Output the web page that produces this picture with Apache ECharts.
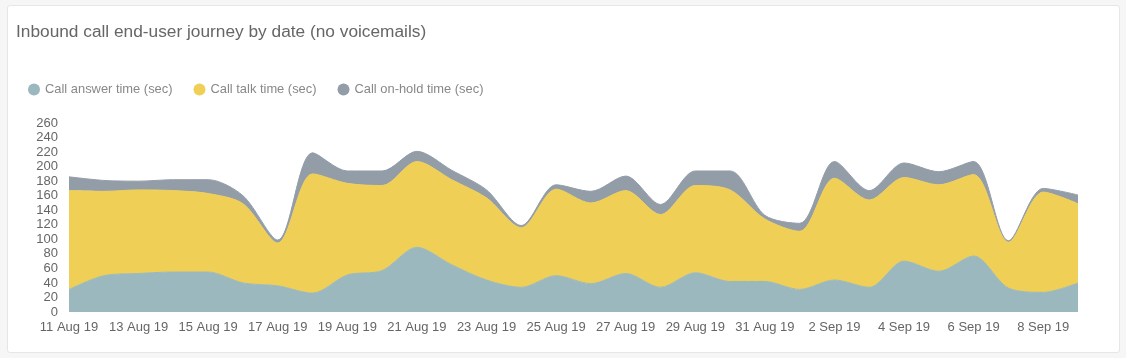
<!DOCTYPE html>
<html>
<head>
<meta charset="utf-8">
<script src="https://cdn.jsdelivr.net/npm/echarts@6/dist/echarts.min.js"></script>
<style>
  html, body { margin: 0; padding: 0; background: #f6f6f6; }
  #card { position: absolute; left: 7px; top: 5px; width: 1111px; height: 346px; background: #fff; border: 1px solid #e6e6e6; border-radius: 3px; }
  #main { position: absolute; left: 0; top: 0; width: 1126px; height: 358px; }
</style>
</head>
<body>
<div id="card"></div>
<div id="main"></div>
<script>
const categories = ['11 Aug 19','12 Aug 19','13 Aug 19','14 Aug 19','15 Aug 19','16 Aug 19','17 Aug 19','18 Aug 19','19 Aug 19','20 Aug 19',
  '21 Aug 19','22 Aug 19','23 Aug 19','24 Aug 19','25 Aug 19','26 Aug 19','27 Aug 19','28 Aug 19','29 Aug 19','30 Aug 19',
  '31 Aug 19','1 Sep 19','2 Sep 19','3 Sep 19','4 Sep 19','5 Sep 19','6 Sep 19','7 Sep 19','8 Sep 19','9 Sep 19'];
const answerTime = [31,50,53,55,55,40,36,26,51,57,89,65,44,34,50,39,53,34,54,42,42,31,44,34,70,56,77,33,27,40];
const talkTime   = [136,116,115,112,108,109,59,164,126,117,118,117,113,82,119,111,114,100,120,126,86,80,140,120,115,119,112,63,138,109];
const holdTime   = [19,15,12,15,19,11,4,29,17,20,14,13,11,3,6,16,20,14,20,26,5,11,23,13,20,18,18,2,5,12];
const yTicks = [0,20,40,60,80,100,120,140,160,180,200,220,240,260];

const font = "'Liberation Sans', Arial, sans-serif";
const chart = echarts.init(document.getElementById('main'));
const mk = (name, data, color) => ({
  name, type: 'line', stack: 'total', data, smooth: 0.3, symbol: 'none',
  lineStyle: { width: 1, color: color },
  areaStyle: { color: color, opacity: 1 },
  itemStyle: { color: color }
});
chart.setOption({
  animation: false,
  textStyle: { fontFamily: font },
  title: {
    text: 'Inbound call end-user journey by date (no voicemails)',
    left: 11, top: 19,
    textStyle: { fontSize: 17.3, fontWeight: 'normal', color: '#666', fontFamily: font }
  },
  legend: {
    left: 23, top: 78, icon: 'circle', itemWidth: 12, itemHeight: 12, itemGap: 21,
    textStyle: { fontSize: 12.9, color: '#888', fontFamily: font }
  },
  grid: { left: 69, right: 48, top: 123, bottom: 46 },
  xAxis: {
    type: 'category', data: categories, boundaryGap: false,
    axisLine: { show: false }, axisTick: { show: false },
    axisLabel: { interval: 1, color: '#666', fontSize: 13, margin: 9, fontFamily: font }
  },
  yAxis: {
    type: 'value', min: 0, max: 260, interval: 20,
    splitLine: { show: false }, axisLine: { show: false }, axisTick: { show: false },
    axisLabel: { color: '#666', fontSize: 13, margin: 11, fontFamily: font,
      formatter: v => yTicks.includes(v) ? String(v) : '' }
  },
  series: [
    mk('Call answer time (sec)', answerTime, '#9ab8bd'),
    mk('Call talk time (sec)', talkTime, '#efcf55'),
    mk('Call on-hold time (sec)', holdTime, '#939da8')
  ]
});
</script>
</body>
</html>
